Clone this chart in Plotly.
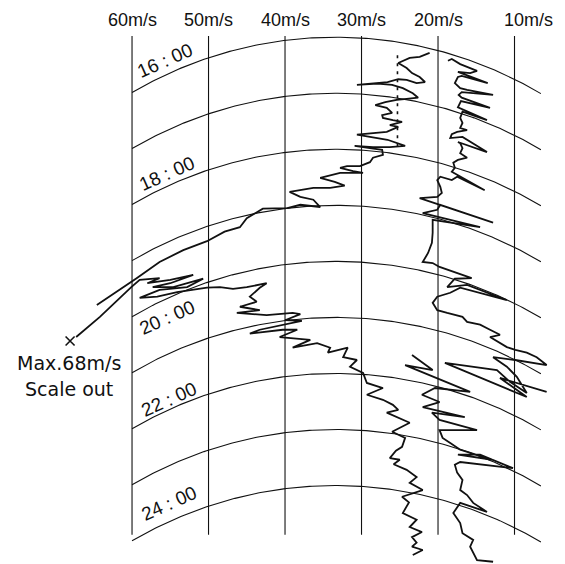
import numpy as np
import plotly.graph_objects as go

# ---- chart scale (paper) ----
speed_ticks = [60, 50, 40, 30, 20, 10]
speed_labels = ["60m/s", "50m/s", "40m/s", "30m/s", "20m/s", "10m/s"]
hour_lines = [16, 17, 18, 19, 20, 21, 22, 23, 24]
hour_labels = ["16 : 00", "18 : 00", "20 : 00", "22 : 00", "24 : 00"]
hour_label_time = [16.42, 18.44, 21.00, 22.47, 24.32]
hour_label_speed = [55.7, 55.4, 55.4, 55.2, 55.2]

# ---- recorded trace A (peak-gust pen), speed m/s and chart time h ----
trace_a_speed = [
    21.1, 22.4, 23.7, 25.2, 24.1, 23.4, 22.4, 21.7, 22.8, 24.1, 25.2, 26.6, 30.6, 27.9, 26.0, 24.6,
    23.3, 22.6, 24.1, 25.4, 26.9, 28.2, 26.7, 26.0, 27.3, 27.2, 25.9, 24.7, 26.3, 25.2, 26.7,
    28.2, 30.6, 28.9, 26.6, 24.3, 26.3, 28.5, 30.9, 28.9, 27.3, 27.2, 28.5, 28.9, 30.2, 31.9,
    32.8, 31.1, 29.8, 32.8, 34.1, 35.4, 33.5, 32.2, 34.1, 36.3, 39.4, 38.0, 36.3, 35.4, 38.0,
    39.7, 42.9, 45.0, 45.9, 47.9, 50.2, 53.3, 56.4, 59.4, 64.6, None,
    67.3, 64.2, 60.1, 59.0, 56.4, 58.0, 55.0, 52.0, 55.0, 57.3, 54.6, 50.7, 52.8, 56.4, 59.0,
    56.7, 54.1, 52.0, 50.2, 48.5, 46.8, 45.0, 42.4, 43.3, 44.6, 43.7, 45.9, 43.3, 46.3, 42.4,
    39.0, 38.0, 40.0, 37.8, 43.3, 44.6, 40.3, 38.4, 40.7, 36.7, 39.0, 35.8, 34.1, 34.4, 31.8,
    32.4, 30.6, 31.5, 29.8, 29.3, 27.2, 29.3, 27.2, 25.9, 25.2, 26.7, 23.7, 26.0, 24.3, 24.7,
    25.5, 26.3, 25.0, 25.8, 24.1, 22.8, 23.7, 22.0, 24.7, 23.8, 24.1, 24.6, 22.8, 23.7, 22.1,
    23.4, 22.8, 23.4, 22.0, 23.3,
]
trace_a_time = [
    16.28, 16.35, 16.37, 16.46, 16.55, 16.64, 16.71, 16.80, 16.82, 16.76, 16.75, 16.80, 16.85, 16.83, 16.85, 16.91,
    17.00, 17.08, 17.10, 17.12, 17.16, 17.21, 17.26, 17.35, 17.39, 17.44, 17.48, 17.51, 17.57, 17.60, 17.69,
    17.71, 17.74, 17.78, 17.83, 17.94, 17.96, 17.96, 17.94, 17.98, 18.01, 18.10, 18.15, 18.23, 18.30, 18.30,
    18.33, 18.39, 18.42, 18.42, 18.46, 18.51, 18.58, 18.65, 18.69, 18.69, 18.76, 18.85, 18.90, 19.03, 18.99,
    19.05, 19.06, 19.23, 19.39, 19.47, 19.64, 19.80, 20.01, 20.30, 20.78, None,
    21.35, 20.99, 20.46, 20.33, 20.30, 20.39, 20.33, 20.24, 20.39, 20.46, 20.46, 20.31, 20.46, 20.51, 20.65,
    20.63, 20.55, 20.51, 20.47, 20.46, 20.49, 20.46, 20.39, 20.47, 20.63, 20.72, 20.81, 20.87, 20.92, 20.96,
    20.92, 20.94, 21.05, 21.06, 21.22, 21.29, 21.22, 21.22, 21.35, 21.40, 21.54, 21.46, 21.54, 21.63, 21.54,
    21.71, 21.76, 21.88, 21.99, 22.17, 22.26, 22.38, 22.47, 22.56, 22.65, 22.70, 22.88, 23.04, 23.15, 23.31,
    23.38, 23.51, 23.54, 23.62, 23.72, 23.85, 23.95, 24.08, 24.20, 24.30, 24.38, 24.49, 24.61, 24.74, 24.83,
    24.92, 25.02, 25.09, 25.15, 25.24,
]

# thin, broken part of trace A (shows as a column of short dashes)
trace_a_faint_speed = [25.3, 25.3]
trace_a_faint_time = [16.32, 18.0]

# ---- recorded trace B (second pen), speed m/s and chart time h ----
trace_b_speed = [
    18.7, 18.2, 17.1, 16.2, 14.9, 15.8, 17.4, 13.5, 16.9, 17.4, 17.8, 17.1, 16.2, 12.8, 16.9,
    17.3, 16.9, 13.2, 17.0, 17.4, 13.6, 16.8, 17.1, 16.8, 17.1, 16.2, 17.5, 18.2, 18.4, 16.8,
    13.6, 17.4, 17.1, 16.8, 17.1, 16.2, 17.4, 18.0, 17.8, 18.2, 13.9, 17.5, 18.2, 19.7, 20.1,
    19.7, 19.5, 20.1, 22.4, 12.8, 19.7, 20.1, 22.0, 14.5, 20.7, 20.7, 20.8, 21.3, 22.0, 20.7,
    19.8, 15.6, 17.8, 18.8, 16.2, 11.0, 15.8, 17.1, 18.4, 20.1, 20.7, 20.1, 18.8, 16.8, 16.2,
    14.5, 13.2, 11.9, 13.2, 11.0, 9.9, 8.4, 7.1, 5.8, 9.9, 12.8, 11.0, 9.7, 8.4, 10.6,
    12.3, 19.1, 8.4, 11.9, 5.8, None,
    23.4, 20.7, 24.3, 15.8, 20.4, 22.1, 19.8, 22.0, 16.5, 20.8, 19.8, 14.9, 19.8, 19.4, 18.4,
    17.1, 12.9, 17.4, 14.5, 10.2, 17.1, 17.8, 17.5, 16.8, 17.1, 16.2, 15.4, 13.6, 17.1, 18.0,
    17.1, 16.8, 15.4, 15.8, 14.9, 12.8,
]
trace_b_time = [
    16.42, 16.39, 16.48, 16.53, 16.60, 16.64, 16.62, 16.82, 16.69, 16.71, 16.82, 16.91, 16.94, 17.03, 16.98,
    17.03, 17.08, 17.26, 17.14, 17.25, 17.48, 17.33, 17.44, 17.53, 17.62, 17.66, 17.69, 17.73, 17.80, 17.78,
    18.05, 17.87, 17.89, 17.98, 18.07, 18.15, 18.19, 18.24, 18.33, 18.40, 18.73, 18.49, 18.55, 18.49, 18.55,
    18.67, 18.78, 18.85, 18.87, 19.31, 18.99, 19.08, 19.14, 19.39, 19.26, 19.49, 19.67, 19.85, 20.01, 20.03,
    20.10, 20.30, 20.31, 20.46, 20.42, 20.69, 20.51, 20.47, 20.56, 20.63, 20.74, 20.87, 20.92, 20.99, 21.08,
    21.13, 21.22, 21.31, 21.35, 21.53, 21.58, 21.63, 21.71, 21.85, 21.76, 21.71, 21.88, 22.06, 22.35, 22.15,
    21.94, 21.81, 22.42, 22.08, 22.33, None,
    21.67, 21.94, 21.85, 22.33, 22.26, 22.38, 22.51, 22.60, 22.78, 22.70, 22.83, 23.01, 23.01, 23.15, 23.24,
    23.36, 23.54, 23.45, 23.45, 23.69, 23.58, 23.63, 23.77, 23.90, 24.08, 24.17, 24.31, 24.47, 24.31, 24.49,
    24.67, 24.85, 24.97, 25.09, 25.33, 25.36,
]

max_speed = 68.1
max_time = 21.42

# ---- geometry / style ----
# the page body keeps its default 8px margin, so the figure is 8px smaller
W, H = 557, 556
X_RANGE = [76.214, 3.40]
Y_RANGE = [25.40, 15.479]
kx = W / (X_RANGE[0] - X_RANGE[1])   # px per m/s
ky = H / (Y_RANGE[0] - Y_RANGE[1])   # px per hour
ARM_R = 402.0                        # pen-arm radius in px
ARC_PEAK_SPEED = 33.4
ARC_END_SPEED = 6.55
LINE_TOP, LINE_BOTTOM = 15.98, 24.88
INK = "#111111"
FONT = "Liberation Sans, Arial, sans-serif"
NOTE_FONT = "DejaVu Sans, sans-serif"


def arc_time(t, v):
    dx = (np.asarray(v) - ARC_PEAK_SPEED) * kx
    return t + (ARM_R - np.sqrt(ARM_R ** 2 - dx ** 2)) / ky


fig = go.Figure()

for v in speed_ticks:
    fig.add_trace(go.Scatter(x=[v, v], y=[LINE_TOP, LINE_BOTTOM], mode="lines",
                             line=dict(color=INK, width=1.1), hoverinfo="skip"))

arc_v = np.linspace(speed_ticks[0], ARC_END_SPEED, 160)
for t in hour_lines:
    fig.add_trace(go.Scatter(x=arc_v, y=arc_time(t, arc_v), mode="lines",
                             line=dict(color=INK, width=1.1), hoverinfo="skip"))

for xs, ys in [(trace_a_speed, trace_a_time), (trace_b_speed, trace_b_time)]:
    fig.add_trace(go.Scatter(x=xs, y=ys, mode="lines", connectgaps=False,
                             line=dict(color=INK, width=1.8), hoverinfo="skip"))

fig.add_trace(go.Scatter(x=trace_a_faint_speed, y=trace_a_faint_time, mode="lines",
                         line=dict(color=INK, width=1.6, dash="3px,5px"), hoverinfo="skip"))

fig.add_trace(go.Scatter(x=[max_speed], y=[max_time], mode="markers",
                         marker=dict(symbol="x-thin", size=9,
                                     line=dict(color=INK, width=1.6)),
                         hoverinfo="skip"))

annotations = []
for v, lab in zip(speed_ticks, speed_labels):
    annotations.append(dict(x=v, y=15.69, xref="x", yref="y", text=lab, showarrow=False,
                            xanchor="center", yanchor="middle",
                            xshift=14 if v == 10 else 0,
                            font=dict(family=FONT, size=18, color=INK)))
for lab, t, v in zip(hour_labels, hour_label_time, hour_label_speed):
    annotations.append(dict(x=v, y=t, xref="x", yref="y", text=lab, showarrow=False,
                            textangle=-24, xanchor="center", yanchor="middle",
                            font=dict(family=FONT, size=19, color=INK)))
annotations.append(dict(x=68.24, y=21.81, xref="x", yref="y", text="Max.68m/s",
                        showarrow=False, xanchor="center", yanchor="middle",
                        font=dict(family=NOTE_FONT, size=19, color=INK)))
annotations.append(dict(x=68.3, y=22.27, xref="x", yref="y", text="Scale out",
                        showarrow=False, xanchor="center", yanchor="middle",
                        font=dict(family=NOTE_FONT, size=19, color=INK)))

fig.update_layout(
    width=W, height=H, autosize=False,
    margin=dict(l=0, r=0, t=0, b=0, pad=0),
    paper_bgcolor="white", plot_bgcolor="white",
    showlegend=False,
    xaxis=dict(range=X_RANGE, visible=False, fixedrange=True),
    yaxis=dict(range=Y_RANGE, visible=False, fixedrange=True),
    annotations=annotations,
)

fig.write_html("out.html")
